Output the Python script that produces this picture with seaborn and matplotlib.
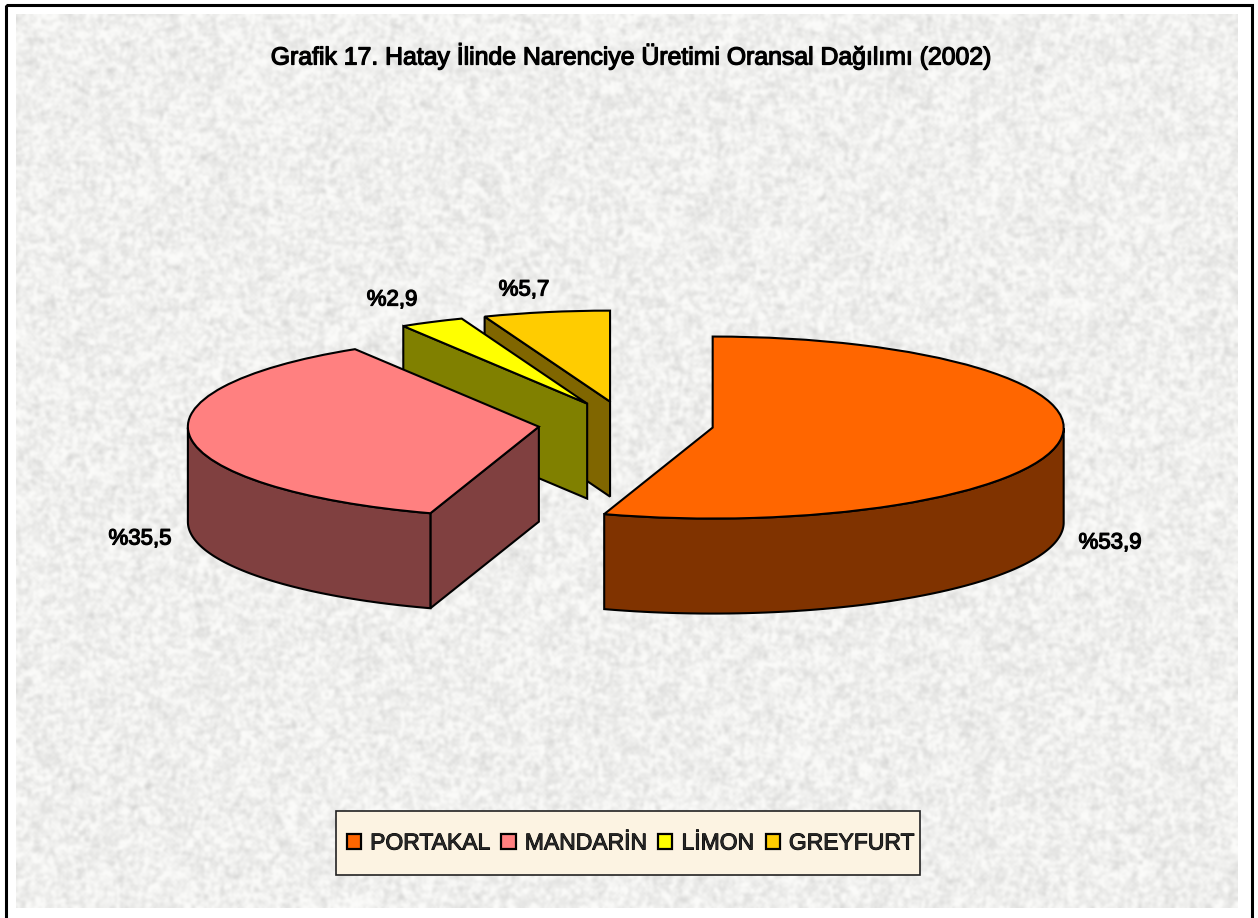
import numpy as np
import matplotlib
matplotlib.use("Agg")
import matplotlib.pyplot as plt
import matplotlib.patheffects as pe
from matplotlib.patches import Polygon, Rectangle, Patch
from matplotlib.colors import to_rgb
import seaborn as sns

# ---- data ----
categories = ["PORTAKAL", "MANDARİN", "LİMON", "GREYFURT"]
shares = [53.9, 35.5, 2.9, 5.7]
share_labels = ["%53,9", "%35,5", "%2,9", "%5,7"]
title = "Grafik 17. Hatay İlinde Narenciye Üretimi Oransal Dağılımı (2002)"
slice_colors = ["#FF6600", "#FF8080", "#FFFF00", "#FFCC00"]

W, H = 1258, 918
CX, CY = 626, 424      # pie centre, px
RX, RY = 351, 91       # projected radii, px
DEPTH = 95 / RY        # wall height in data units

sns.set_theme(style="white")
plt.rcParams["font.family"] = ["Liberation Sans", "DejaVu Sans"]
palette = sns.color_palette(slice_colors)

fig = plt.figure(figsize=(W / 100, H / 100), dpi=100, facecolor="white")

# background texture layer, in pixel coordinates
bg = fig.add_axes([0, 0, 1, 1], zorder=0)
bg.set_xlim(0, W)
bg.set_ylim(H, 0)
bg.axis("off")


def hash_noise(h, w, a, b):
    yy, xx = np.mgrid[0:h, 0:w]
    v = np.sin(xx * a + yy * b) * 43758.5453
    return v - np.floor(v)


def blur(img, n):
    for _ in range(n):
        img = (img + np.roll(img, 1, 0) + np.roll(img, -1, 0)
               + np.roll(img, 1, 1) + np.roll(img, -1, 1)) / 5
    return img


tex = blur(hash_noise(H // 2, W // 2, 12.9898, 78.233), 1) - 0.5
tex2 = blur(hash_noise(H // 2, W // 2, 39.346, 11.135), 5) - 0.5
tex = np.clip(0.94 + 0.22 * tex + 0.2 * tex2, 0.80, 0.985)
tx0, ty0, tx1, ty1 = 16, 14, 1238, 908
bg.imshow(np.dstack([tex, tex, tex * 0.993]), extent=(tx0, tx1, ty1, ty0),
          interpolation="bicubic", aspect="auto", zorder=1)
bg.set_xlim(0, W)
bg.set_ylim(H, 0)
bg.add_patch(Rectangle((6, 5), 1246, 920, fill=False, ec="black", lw=2.2, zorder=2))

# pie layer: data unit = one pie radius
ax = fig.add_axes([0, 0, 1, 1], zorder=1)
ax.patch.set_alpha(0)
wedges, _ = ax.pie(shares, colors=palette, explode=[0.25] * len(shares),
                   startangle=90, counterclock=False,
                   wedgeprops=dict(edgecolor="black", linewidth=1.5, zorder=10))
ax.set_aspect("auto")
ax.set_xlim(-CX / RX, (W - CX) / RX)
ax.set_ylim(-(H - CY) / RY, CY / RY)
ax.axis("off")

# draw back to front: greyfurt, limon, mandarin, portakal
order = [3, 2, 1, 0]
for z, i in enumerate(order):
    w = wedges[i]
    cx, cy = w.center
    dark = tuple(c * 0.5 for c in to_rgb(slice_colors[i]))
    style = dict(fc=dark, ec="black", lw=1.5, joinstyle="miter", zorder=3 + 2 * z)
    # cut face starting the slice (faces the viewer only on the left half)
    th = np.radians(w.theta2)
    if np.cos(th) < -1e-6:
        ex, ey = cx + np.cos(th), cy + np.sin(th)
        ax.add_patch(Polygon([(cx, cy), (ex, ey), (ex, ey - DEPTH), (cx, cy - DEPTH)], **style))
    # outer wall: only the front half of the rim
    t = np.radians(np.linspace(w.theta1, w.theta2, 240))
    t = t[np.sin(t) <= 0]
    if t.size:
        xs, ys = cx + np.cos(t), cy + np.sin(t)
        ax.add_patch(Polygon(np.r_[np.c_[xs, ys], np.c_[xs, ys - DEPTH][::-1]], **style))
    w.set_zorder(4 + 2 * z)

stroke = [pe.withStroke(linewidth=0.9, foreground="black")]
# value labels around the pie, placed in pixel coordinates
label_pos = [(1110, 543), (140, 539), (392, 300), (524, 290)]
for txt, (x, y) in zip(share_labels, label_pos):
    bg.text(x, y, txt, ha="center", va="center", fontsize=16, color="black",
            path_effects=stroke, zorder=5)
bg.text(629.5, 56, title, ha="center", va="center", fontsize=17.85, color="black",
        path_effects=stroke, zorder=5)

# legend box
bg.add_patch(Rectangle((336, 811), 584, 64, fc="#FCF3E2", ec="#222222", lw=1.2, zorder=4))
handles = [Patch(fc=c, ec="black", lw=1.6) for c in slice_colors]
leg = fig.legend(handles, categories, ncol=4, loc="center",
                 bbox_to_anchor=(630.5 / W, 1 - 843 / H),
                 fontsize=16.5, frameon=False,
                 handlelength=0.62, handleheight=0.62, handletextpad=0.4,
                 columnspacing=0.5, borderpad=0, borderaxespad=0)
for t in leg.get_texts():
    t.set_path_effects([pe.withStroke(linewidth=0.7, foreground="black")])

fig.savefig("out.png", dpi=100)
